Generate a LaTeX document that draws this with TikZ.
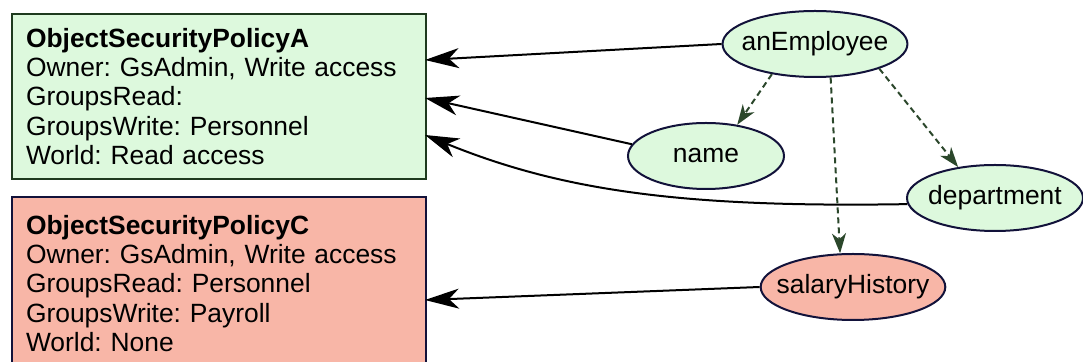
\documentclass[tikz,border=0pt]{standalone}
\usepackage{fontspec}
\setmainfont{Liberation Sans}
\usetikzlibrary{arrows.meta,shapes.geometric}
\definecolor{greenfill}{HTML}{DDF9DD}
\definecolor{greenline}{HTML}{1E3A1E}
\definecolor{redfill}{HTML}{F8B6A7}
\definecolor{navyline}{HTML}{12123A}
\definecolor{dashgreen}{HTML}{2B472B}
\frenchspacing

\begin{document}
\begin{tikzpicture}[x=0.5pt,y=-0.5pt,
  every node/.style={font=\fontsize{13.2}{14.6}\selectfont},
  policybox/.style={draw, line width=1pt, anchor=north west, align=left,
    inner xsep=7pt, text width=193pt, minimum width=207pt},
  objnode/.style={draw=navyline, ellipse, line width=1pt, inner ysep=0pt,
    minimum height=33pt},
  owns/.style={-{Stealth[length=17pt,width=10pt,inset=5pt]}, line width=1pt},
  holds/.style={-{Stealth[length=10pt,width=7pt,inset=3pt]}, dashgreen,
    line width=1pt, dash pattern=on 3pt off 2pt}]
\clip (0,0) rectangle (1083,362);

% Draw the two policy boxes
  \node[policybox, draw=greenline, fill=greenfill, minimum height=82.5pt] (polA) at (11,13)
    {\textbf{ObjectSecurityPolicyA}\\Owner: GsAdmin, Write access\\GroupsRead:\\GroupsWrite: Personnel\\World: Read access};
  \node[policybox, draw=navyline, fill=redfill, minimum height=86.5pt] (polC) at (11,196)
    {\textbf{ObjectSecurityPolicyC}\\Owner: GsAdmin, Write access\\GroupsRead: Personnel\\GroupsWrite: Payroll\\World: None};

% Draw the objects
  \node[objnode, fill=greenfill, inner xsep=-4pt, minimum width=92pt] (emp) at (815,44) {anEmployee};
  \node[objnode, fill=greenfill, inner xsep=0pt, minimum width=78pt] (name) at (706,156) {name};
  \node[objnode, fill=greenfill, inner xsep=-2.5pt, minimum width=88pt] (dept) at (995,198) {department};
  \node[objnode, fill=redfill, inner xsep=-5.5pt, minimum width=92pt] (sal) at (853,287) {salaryHistory};

% Points on the policy boxes
  \coordinate (inA1) at (425,60);
  \coordinate (inA2) at (425,98);
  \coordinate (inA3) at (425,135);
  \coordinate (inC) at (425,300);

% Draw the policy links
  \draw[owns] (emp.west) -- (inA1);
  \draw[owns] (name.171) -- (inA2);
  \draw[owns] (dept.184) .. controls (680,208) and (560,190) .. (inA3);
  \draw[owns] (sal.west) -- (inC);

% Draw the references
  \draw[holds] (emp.215) -- (name.45);
  \draw[holds] (emp.295) -- (sal.111);
  \draw[holds] (emp.339) -- (dept.140);

\end{tikzpicture}
\end{document}
